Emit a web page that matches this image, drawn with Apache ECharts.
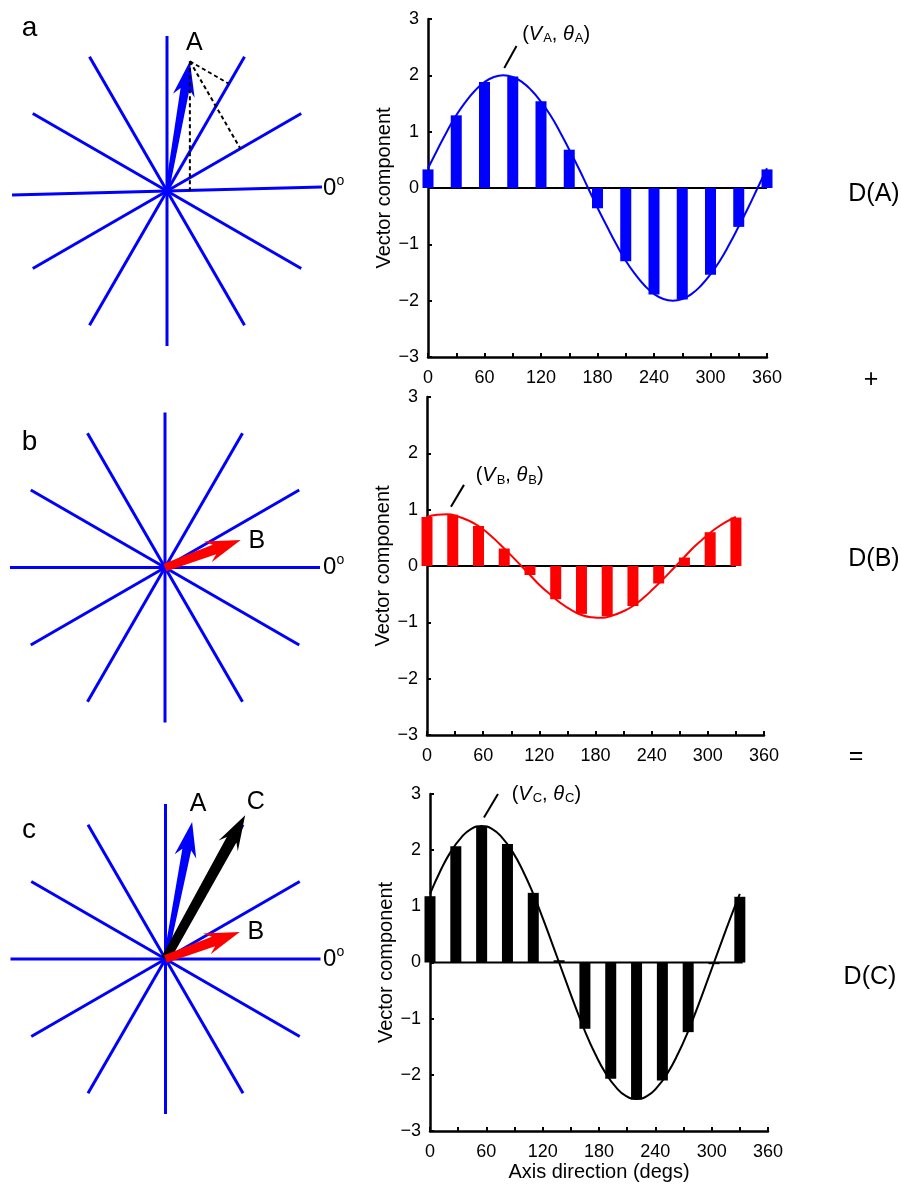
<!DOCTYPE html>
<html>
<head>
<meta charset="utf-8">
<script src="https://cdn.jsdelivr.net/npm/echarts@6/dist/echarts.min.js"></script>
<style>
  html, body { margin: 0; padding: 0; background: #fff; }
  #chart { width: 901px; height: 1188px; }
</style>
</head>
<body>
<div id="chart"></div>
<script>
// spokes of the star diagrams (deg, 0 = rightwards, anticlockwise)
var spokeAngles = [0, 30, 60, 90, 120, 150, 180, 210, 240, 270, 300, 330]
// in panel a the 0 deg line is drawn slightly tilted
var spokeAnglesA = [1.5, 30, 60, 90, 120, 150, 181.5, 210, 240, 270, 300, 330]

// vectors on the stars: [direction in deg, length in spoke radii]
var vecA = [80, 0.85]
var vecB = [20, 0.52]
var vecAc = [79, 0.90]
var vecBc = [20, 0.51]
var vecCc = [61, 1.06]
// axes that A is projected onto in panel a
var projAxes = [0, 30, 60]

// bars: axis positions (deg) and heights
var barXA = [0, 30, 60, 90, 120, 150, 180, 210, 240, 270, 300, 330, 360]
var barA = [0.33, 1.29, 1.88, 1.98, 1.54, 0.68, -0.36, -1.30, -1.89, -1.98, -1.54, -0.69, 0.33]
var barXBC = [0, 27.5, 55, 82.5, 110, 137.5, 165, 192.5, 220, 247.5, 275, 302.5, 330]
var barB = [0.87, 0.91, 0.71, 0.31, -0.16, -0.59, -0.85, -0.89, -0.71, -0.31, 0.15, 0.60, 0.86]
var barC = [1.18, 2.07, 2.43, 2.11, 1.24, 0.04, -1.18, -2.07, -2.44, -2.10, -1.24, -0.03, 1.17]

// fitted curves
var curveXA = [0, 10, 20, 30, 40, 50, 60, 70, 80, 90, 100, 110, 120, 130, 140, 150, 160, 170, 180,
  190, 200, 210, 220, 230, 240, 250, 260, 270, 280, 290, 300, 310, 320, 330, 340, 350, 360]
var curveA = [0.35, 0.68, 1.00, 1.29, 1.53, 1.73, 1.88, 1.97, 2.00, 1.97, 1.88, 1.73, 1.53, 1.29, 1.00, 0.68, 0.35, 0.00, -0.35,
  -0.68, -1.00, -1.29, -1.53, -1.73, -1.88, -1.97, -2.00, -1.97, -1.88, -1.73, -1.53, -1.29, -1.00, -0.68, -0.35, 0.00, 0.35]
var curveXBC = [0, 11, 22, 33, 44, 55, 66, 77, 88, 99, 110, 121, 132, 143, 154, 165,
  176, 187, 198, 209, 220, 231, 242, 253, 264, 275, 286, 297, 308, 319, 330]
var curveB = [0.87, 0.91, 0.92, 0.88, 0.81, 0.71, 0.57, 0.40, 0.22, 0.03, -0.16, -0.35, -0.51, -0.66, -0.78, -0.87,
  -0.91, -0.92, -0.88, -0.81, -0.71, -0.57, -0.40, -0.22, -0.03, 0.16, 0.35, 0.51, 0.66, 0.78, 0.87]
var curveC = [1.22, 1.63, 1.97, 2.22, 2.38, 2.43, 2.38, 2.22, 1.97, 1.63, 1.22, 0.75, 0.25, -0.25, -0.75, -1.22,
  -1.63, -1.97, -2.22, -2.38, -2.43, -2.38, -2.22, -1.97, -1.63, -1.22, -0.75, -0.25, 0.25, 0.75, 1.22]

// where the zero line stops in each plot
var zeroLineEnds = [360, 330, 333]

// peak annotations: leader [x1, y1, x2, y2] and text anchor [x, y]
var leaderA = [81, 2.13, 94, 2.52]
var labelPosA = [100, 2.73]
var leaderB = [25.6, 1.05, 39.5, 1.44]
var labelPosB = [52, 1.6]
var leaderC = [57.5, 2.58, 72.4, 3.0]
var labelPosC = [87, 3.0]

var FONT = 'Liberation Sans, Arial, Helvetica, sans-serif'
var RAD = Math.PI / 180

function pairs (xs, ys) {
  return xs.map(function (x, i) { return [x, ys[i]] })
}

function barAxes (i, xName) {
  var line = { show: true, onZero: false, lineStyle: { color: '#000', width: 2.5 } }
  var tick = { show: true, inside: true, length: 4, lineStyle: { color: '#000', width: 2 } }
  return {
    x: {
      gridIndex: i, type: 'value', min: 0, max: 360, interval: 30,
      axisLine: line, axisTick: tick, splitLine: { show: false },
      axisLabel: {
        color: '#000', fontSize: 18, fontFamily: FONT, margin: 12,
        formatter: function (v) { return v % 60 === 0 ? String(v) : '' }
      },
      name: xName || '', nameLocation: 'middle', nameGap: 31,
      nameTextStyle: { color: '#000', fontSize: 20, fontFamily: FONT }
    },
    y: {
      gridIndex: i, type: 'value', min: -3, max: 3, interval: 1,
      axisLine: line, axisTick: tick, splitLine: { show: false },
      axisLabel: {
        color: '#000', fontSize: 18, fontFamily: FONT, margin: 9,
        formatter: function (v) { return String(v).replace('-', '\u2212') }
      },
      name: 'Vector component', nameLocation: 'middle', nameGap: 32,
      nameTextStyle: { color: '#000', fontSize: 20, fontFamily: FONT }
    }
  }
}

function starAxis (i) {
  return { gridIndex: i, type: 'value', min: -1, max: 1, show: false }
}

function renderSpoke (params, api) {
  var a = api.value(0) * RAD
  var c = api.coord([0, 0])
  var e = api.coord([Math.cos(a), Math.sin(a)])
  return {
    type: 'line',
    shape: { x1: c[0], y1: c[1], x2: e[0], y2: e[1] },
    style: { stroke: '#0000ff', lineWidth: 3 }
  }
}

function spokeSeries (k, angles) {
  return {
    type: 'custom', xAxisIndex: k, yAxisIndex: k, silent: true, z: 1,
    data: angles.map(function (a) { return [a] }),
    renderItem: renderSpoke
  }
}

function arrowSeries (k, vec, color, neckW, baseW, label, off, z) {
  return {
    type: 'custom', xAxisIndex: k, yAxisIndex: k, silent: true, z: z,
    data: [vec],
    renderItem: function (params, api) {
      var a = api.value(0) * RAD
      var len = api.value(1)
      var p0 = api.coord([0, 0])
      var p1 = api.coord([len * Math.cos(a), len * Math.sin(a)])
      var dx = p1[0] - p0[0]
      var dy = p1[1] - p0[1]
      var L = Math.sqrt(dx * dx + dy * dy)
      var ux = dx / L
      var uy = dy / L
      var nx = -uy
      var ny = ux
      var h = 35
      var hw = 11
      function pt (t, s) { return [p1[0] - ux * t + nx * s, p1[1] - uy * t + ny * s] }
      var pts = [
        pt(0, 0), pt(h, hw), pt(h * 0.8, neckW / 2), pt(L, baseW / 2),
        pt(L, -baseW / 2), pt(h * 0.8, -neckW / 2), pt(h, -hw)
      ]
      return {
        type: 'group',
        children: [
          { type: 'polygon', shape: { points: pts }, style: { fill: color } },
          {
            type: 'text', x: p1[0] + off[0], y: p1[1] + off[1],
            style: { text: label, fill: '#000', fontSize: 25, fontFamily: FONT, align: 'center', verticalAlign: 'middle' }
          }
        ]
      }
    }
  }
}

function projSeries (k) {
  return {
    type: 'custom', xAxisIndex: k, yAxisIndex: k, silent: true, z: 4,
    data: projAxes.map(function (p) { return [p] }),
    renderItem: function (params, api) {
      var phi = api.value(0) * RAD
      var th = vecA[0] * RAD
      var L = vecA[1]
      var tip = api.coord([L * Math.cos(th), L * Math.sin(th)])
      var d = L * Math.cos(th - phi)
      var foot = api.coord([d * Math.cos(phi), d * Math.sin(phi)])
      return {
        type: 'line',
        shape: { x1: tip[0], y1: tip[1], x2: foot[0], y2: foot[1] },
        style: { stroke: '#000', lineWidth: 2, lineDash: [4, 3] }
      }
    }
  }
}

function plotSeries (i, barX, bars, curveX, curve, color, leader, labelPos, sub) {
  return [
    {
      type: 'line', xAxisIndex: i, yAxisIndex: i, silent: true, z: 1,
      data: [[0, 0], [zeroLineEnds[i], 0]], symbol: 'none',
      lineStyle: { color: '#000', width: 2 }
    },
    {
      type: 'bar', xAxisIndex: i, yAxisIndex: i, silent: true, z: 2, clip: false,
      data: pairs(barX, bars), barWidth: 11,
      itemStyle: { color: color }
    },
    {
      type: 'line', xAxisIndex: i, yAxisIndex: i, silent: true, z: 3,
      data: pairs(curveX, curve), smooth: true, symbol: 'none',
      lineStyle: { color: color, width: 2 }
    },
    {
      type: 'custom', xAxisIndex: i, yAxisIndex: i, silent: true, z: 4,
      data: [leader.concat(labelPos)],
      renderItem: function (params, api) {
        var a = api.coord([api.value(0), api.value(1)])
        var b = api.coord([api.value(2), api.value(3)])
        var t = api.coord([api.value(4), api.value(5)])
        return {
          type: 'group',
          children: [
            { type: 'line', shape: { x1: a[0], y1: a[1], x2: b[0], y2: b[1] }, style: { stroke: '#000', lineWidth: 2 } },
            {
              type: 'text', x: t[0], y: t[1],
              style: {
                text: '(' + '{i|V}{s|' + sub + '}, {i|\u03b8}{s|' + sub + '})',
                fill: '#000', fontSize: 20, fontFamily: FONT, align: 'left', verticalAlign: 'middle',
                rich: {
                  i: { fontStyle: 'italic', fontSize: 20, fontFamily: FONT, lineHeight: 22 },
                  s: { fontSize: 13, fontFamily: FONT, lineHeight: 13, padding: [9, 0, 0, 1] }
                }
              }
            }
          ]
        }
      }
    }
  ]
}

var axA = barAxes(0)
var axB = barAxes(1)
var axC = barAxes(2, 'Axis direction (degs)')

function txt (s, x, y, size, align) {
  return {
    type: 'text', x: x, y: y, silent: true,
    style: { text: s, fill: '#000', fontSize: size, fontFamily: FONT, align: align || 'center', verticalAlign: 'middle' }
  }
}

function degLabel (y) {
  return [txt('0', 323, y, 24, 'left'), txt('o', 336.5, y - 7, 14, 'left')]
}

var chart = echarts.init(document.getElementById('chart'))
chart.setOption({
  backgroundColor: '#fff',
  animation: false,
  grid: [
    { left: 428, top: 19, width: 339, height: 338 },
    { left: 427, top: 397, width: 337, height: 338 },
    { left: 430, top: 794, width: 338, height: 337 },
    { left: 12, top: 36, width: 310, height: 310 },
    { left: 10, top: 412.5, width: 310, height: 310 },
    { left: 10.5, top: 804, width: 310, height: 310 }
  ],
  xAxis: [axA.x, axB.x, axC.x, starAxis(3), starAxis(4), starAxis(5)],
  yAxis: [axA.y, axB.y, axC.y, starAxis(3), starAxis(4), starAxis(5)],
  series: [].concat(
    plotSeries(0, barXA, barA, curveXA, curveA, '#0000ff', leaderA, labelPosA, 'A'),
    plotSeries(1, barXBC, barB, curveXBC, curveB, '#ff0000', leaderB, labelPosB, 'B'),
    plotSeries(2, barXBC, barC, curveXBC, curveC, '#000000', leaderC, labelPosC, 'C'),
    [
      spokeSeries(3, spokeAnglesA), spokeSeries(4, spokeAngles), spokeSeries(5, spokeAngles),
      arrowSeries(3, vecA, '#0000ff', 9, 4, 'A', [4.5, -18.5], 3),
      projSeries(3),
      arrowSeries(4, vecB, '#ff0000', 10, 8, 'B', [16, 1], 3),
      arrowSeries(5, vecAc, '#0000ff', 9, 4, 'A', [6, -18], 3),
      arrowSeries(5, vecCc, '#000000', 11, 9, 'C', [10.5, -13.5], 4),
      arrowSeries(5, vecBc, '#ff0000', 10, 8, 'B', [16, 0], 5)
    ]
  ),
  graphic: [
    txt('a', 29.5, 28, 28),
    txt('b', 29.5, 442, 28),
    txt('c', 29, 830, 28),
    txt('D(A)', 874, 194, 25),
    txt('+', 871, 380, 25),
    txt('D(B)', 874, 559, 25),
    txt('=', 856, 757, 25),
    txt('D(C)', 870, 977, 25)
  ].concat(degLabel(188.5), degLabel(567.5), degLabel(959.5))
})
</script>
</body>
</html>
